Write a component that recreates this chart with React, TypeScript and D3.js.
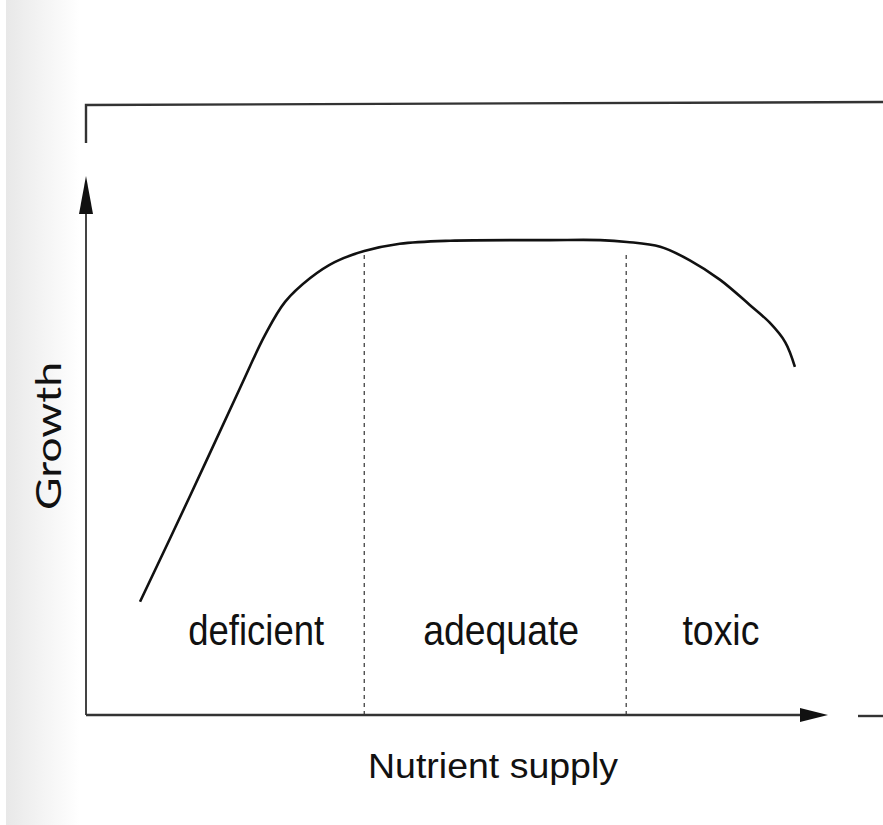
import React from 'react';
import * as d3 from 'd3';

// curve (supply 0-10, growth 0-10)
const supply = [0.73, 1.41, 2.08, 2.42, 2.69, 3.03, 3.36, 3.76, 4.24, 4.92, 6.27, 6.95, 7.31, 7.76, 8.16, 8.57, 8.97, 9.24, 9.45, 9.58];
const growth = [1.85, 3.59, 5.34, 6.21, 6.75, 7.14, 7.4, 7.58, 7.7, 7.75, 7.76, 7.76, 7.73, 7.65, 7.43, 7.11, 6.7, 6.41, 6.09, 5.69];

// zone boundaries and labels
const boundaries = [3.76, 7.3];
const zoneLabels = ['deficient', 'adequate', 'toxic'];
const zoneCenters = [2.3, 5.61, 8.58];
const zoneWidths = [136, 156, 77];

const xTitle = 'Nutrient supply';
const yTitle = 'Growth';

const W = 883;
const H = 825;

export default function App() {
  const x = d3.scaleLinear().domain([0, 10]).range([86, 826]);
  const y = d3.scaleLinear().domain([0, 10]).range([715, 103]);

  const pts: [number, number][] = supply.map((s, i) => [s, growth[i]]);
  const line = d3
    .line<[number, number]>()
    .x((d) => x(d[0]))
    .y((d) => y(d[1]))
    .curve(d3.curveCatmullRom.alpha(0.5));

  // growth at a supply value, for where the dashed lines stop
  const growthAt = (s: number) => {
    const i = d3.bisectLeft(supply, s);
    if (i === 0) return growth[0];
    const t = (s - supply[i - 1]) / (supply[i] - supply[i - 1]);
    return growth[i - 1] + t * (growth[i] - growth[i - 1]);
  };

  const x0 = x(0);
  const y0 = y(0);
  const yTop = y(10);

  return (
    <svg
      width={W}
      height={H}
      style={{ position: 'absolute', left: 0, top: 0, background: '#fff' }}
    >
      <defs>
        <linearGradient id="scan" x1="0" x2="1" y1="0" y2="0">
          <stop offset="0" stopColor="#e8e8e8" />
          <stop offset="0.5" stopColor="#f4f4f4" />
          <stop offset="1" stopColor="#fff" />
        </linearGradient>
      </defs>
      <rect x={6} y={0} width={74} height={H} fill="url(#scan)" />

      {/* frame top and left stub */}
      <path
        d={`M${x0},${yTop + 40} L${x0},${yTop + 2} L${W},${yTop - 1}`}
        fill="none"
        stroke="#333"
        strokeWidth={2.4}
      />

      {/* y axis with arrow */}
      <line x1={x0} x2={x0} y1={y0} y2={212} stroke="#444" strokeWidth={2} />
      <path d={`M${x0},176 L${x0 - 7},214 L${x0 + 7},214 Z`} fill="#111" />

      {/* x axis with arrow */}
      <line x1={x0} x2={808} y1={y0} y2={y0} stroke="#333" strokeWidth={2.4} />
      <path d={`M828,${y0} L800,${y0 - 7} L800,${y0 + 7} Z`} fill="#111" />
      <line x1={858} x2={W} y1={y0 + 1} y2={y0 + 1} stroke="#333" strokeWidth={2.4} />

      {/* zone boundaries */}
      {boundaries.map((b, i) => (
        <line
          key={i}
          x1={x(b)}
          x2={x(b)}
          y1={y0}
          y2={y(growthAt(b)) + (i === 0 ? 0 : 12)}
          stroke="#333"
          strokeWidth={1.2}
          strokeDasharray="4,4"
        />
      ))}

      {/* response curve */}
      <path d={line(pts) || ''} fill="none" stroke="#111" strokeWidth={2.6} />

      {/* zone labels */}
      {zoneLabels.map((l, i) => (
        <text
          key={l}
          x={x(zoneCenters[i])}
          y={645}
          textAnchor="middle"
          fontFamily="Liberation Sans, Arial, sans-serif"
          fontSize={43}
          fill="#111"
          textLength={zoneWidths[i]}
          lengthAdjust="spacingAndGlyphs"
        >
          {l}
        </text>
      ))}

      {/* axis titles */}
      <text
        x={493}
        y={778}
        textAnchor="middle"
        fontFamily="Liberation Sans, Arial, sans-serif"
        fontSize={35}
        fill="#111"
        textLength={250}
        lengthAdjust="spacingAndGlyphs"
      >
        {xTitle}
      </text>
      <text
        transform="translate(61,436) rotate(-90)"
        textAnchor="middle"
        fontFamily="Lato, Open Sans, sans-serif"
        fontSize={35}
        fill="#111"
        textLength={148}
        lengthAdjust="spacingAndGlyphs"
      >
        {yTitle}
      </text>
    </svg>
  );
}
